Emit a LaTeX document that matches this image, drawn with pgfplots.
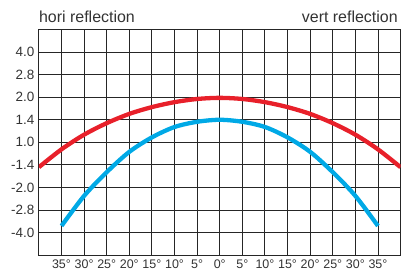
\documentclass[border=0pt]{standalone}
\usepackage{pgfplots}
\pgfplotsset{compat=1.18}
\usepackage{fontspec}
\setmainfont{Liberation Sans}
\definecolor{cred}{HTML}{E8202A}
\definecolor{cblue}{HTML}{00A9E6}
\definecolor{txt}{HTML}{333333}
\begin{document}
\begin{tikzpicture}
\begin{axis}[
  scale only axis,
  width=362.7pt, height=226.5pt,
  xmin=-40, xmax=40, ymin=0, ymax=10,
  xtick={-35,-30,-25,-20,-15,-10,-5,0,5,10,15,20,25,30,35},
  xticklabels={35°,30°,25°,20°,15°,10°,5°,0°,5°,10°,15°,20°,25°,30°,35°},
  ytick={1,2,3,4,5,6,7,8,9},
  yticklabels={-4.0,-2.8,-2.0,-1.4,1.0,1.4,2.0,2.8,4.0},
  major tick length=0pt,
  grid=major,
  grid style={black!85, line width=0.9pt},
  axis line style={black!85, line width=0.9pt},
  xticklabel style={font=\fontsize{12.5}{14}\selectfont, text=txt, yshift=-1pt},
  yticklabel style={font=\fontsize{13.5}{15}\selectfont, text=txt, xshift=-1pt},
  clip=true,
]
\addplot[cred, line width=4.3pt, smooth] coordinates {
(-40,3.9) (-35,4.69) (-30,5.34) (-25,5.85) (-20,6.26) (-15,6.56) (-10,6.78) (-5,6.92) (0,6.97)
(5,6.92) (10,6.78) (15,6.56) (20,6.26) (25,5.85) (30,5.34) (35,4.69) (40,3.9)};
\addplot[cblue, line width=4.3pt, smooth] coordinates {
(-35,1.3) (-30,2.63) (-25,3.68) (-20,4.58) (-15,5.22) (-10,5.68) (-5,5.91) (0,6.0)
(5,5.91) (10,5.68) (15,5.22) (20,4.58) (25,3.68) (30,2.63) (35,1.3)};
\end{axis}
\node[anchor=base west, inner sep=0pt, text=txt, font=\fontsize{16}{18}\selectfont] at (0pt,233pt) {hori reflection};
\node[anchor=base east, inner sep=0pt, text=txt, font=\fontsize{16}{18}\selectfont] at (360pt,233pt) {vert reflection};
\useasboundingbox (-39pt,-16pt) rectangle (362pt,256pt);
\end{tikzpicture}
\end{document}
